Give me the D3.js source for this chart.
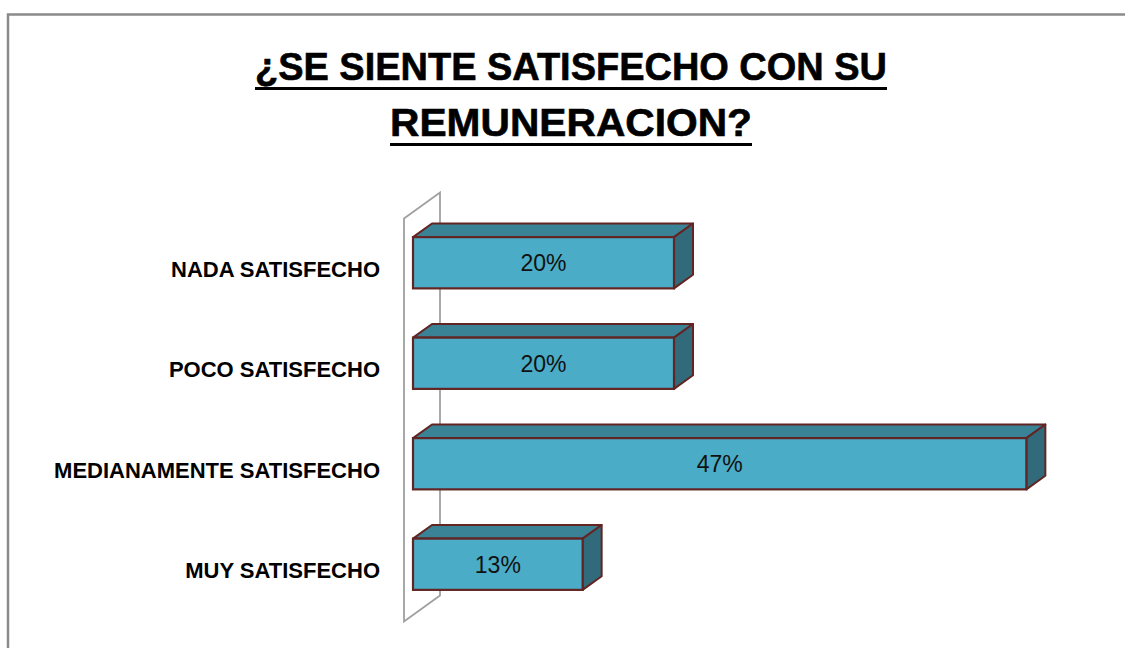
<!DOCTYPE html>
<html>
<head>
<meta charset="utf-8">
<script src="https://cdn.jsdelivr.net/npm/d3@7"></script>
<style>
  body { margin: 0; background: #fff; }
  svg { display: block; }
</style>
</head>
<body>
<div id="chart"></div>
<script>
(function () {
    'use strict';
    var width = 1125;
    var height = 648;

    // data
    var titleLines = ['¿SE SIENTE SATISFECHO CON SU', 'REMUNERACION?'];
    var categories = ['NADA SATISFECHO', 'POCO SATISFECHO', 'MEDIANAMENTE SATISFECHO', 'MUY SATISFECHO'];
    var values = [20, 20, 47, 13];
    var valueLabels = ['20%', '20%', '47%', '13%'];

    var svg = d3.select('#chart')
        .append('svg')
        .attr('width', width)
        .attr('height', height);

    // outer frame (runs off right and bottom)
    svg.append('rect')
        .attr('x', 8).attr('y', 14.5)
        .attr('width', 1140).attr('height', 660)
        .attr('fill', 'none')
        .attr('stroke', '#8a8a8a')
        .attr('stroke-width', 2.5);

    // title, underlined
    var titleYs = [80, 136];
    titleLines.forEach(function (t, i) {
        var txt = svg.append('text')
            .attr('x', 571)
            .attr('y', titleYs[i])
            .attr('text-anchor', 'middle')
            .attr('font-family', 'Liberation Sans, Arial, sans-serif')
            .attr('font-weight', 'bold')
            .attr('font-size', 38)
            .attr('fill', '#000')
            .attr('stroke', '#000')
            .attr('stroke-width', 0.6)
            .attr('textLength', i === 0 ? 632 : 362)
            .attr('lengthAdjust', 'spacingAndGlyphs')
            .text(t);
        var bb = txt.node().getBBox();
        svg.append('rect')
            .attr('x', bb.x)
            .attr('y', titleYs[i] + 7)
            .attr('width', bb.width)
            .attr('height', 3)
            .attr('fill', '#000');
    });

    // scales
    var x = d3.scaleLinear().domain([0, 50]).range([413, 413 + 50 * 13.05]);
    var y = d3.scaleBand().domain(categories).range([212, 615])
        .paddingInner(0.49).paddingOuter(0.25);

    // depth direction of the 3d effect
    var ddx = 1, ddy = -0.72;
    function pt(px, py, d) { return [px + d * ddx, py + d * ddy]; }

    // left wall
    var wFront = -9, wBack = 27;
    var yr = y.range();
    var wall = [pt(x(0), yr[0], wFront), pt(x(0), yr[0], wBack),
                pt(x(0), yr[1], wBack), pt(x(0), yr[1], wFront)];
    svg.append('path')
        .attr('d', 'M' + wall.join('L') + 'Z')
        .attr('fill', '#fff')
        .attr('stroke', '#a0a0a0')
        .attr('stroke-width', 1.8);

    // bars
    var bDepth = 19;
    var outline = '#632523';
    var bars = svg.append('g').selectAll('g')
        .data(categories)
        .enter().append('g');

    bars.append('path') // top face
        .attr('d', function (d, i) {
            var x0 = x(0), x1 = x(values[i]), y0 = y(d);
            return 'M' + [pt(x0, y0, 0), pt(x0, y0, bDepth), pt(x1, y0, bDepth), pt(x1, y0, 0)].join('L') + 'Z';
        })
        .attr('fill', '#3a8396')
        .attr('stroke', outline)
        .attr('stroke-width', 2)
        .attr('stroke-linejoin', 'round');

    bars.append('path') // side face
        .attr('d', function (d, i) {
            var x1 = x(values[i]), y0 = y(d), y1 = y(d) + y.bandwidth();
            return 'M' + [pt(x1, y0, 0), pt(x1, y0, bDepth), pt(x1, y1, bDepth), pt(x1, y1, 0)].join('L') + 'Z';
        })
        .attr('fill', '#316b7b')
        .attr('stroke', outline)
        .attr('stroke-width', 2)
        .attr('stroke-linejoin', 'round');

    bars.append('rect') // front face
        .attr('x', x(0))
        .attr('y', function (d) { return y(d); })
        .attr('width', function (d, i) { return x(values[i]) - x(0); })
        .attr('height', y.bandwidth())
        .attr('fill', '#4aacc6')
        .attr('stroke', outline)
        .attr('stroke-width', 2.2);

    bars.append('text')
        .attr('x', function (d, i) { return (x(0) + x(values[i])) / 2; })
        .attr('y', function (d) { return y(d) + y.bandwidth() / 2; })
        .attr('dy', '0.36em')
        .attr('text-anchor', 'middle')
        .attr('font-family', 'Liberation Sans, Arial, sans-serif')
        .attr('font-size', 23)
        .attr('fill', '#111')
        .text(function (d, i) { return valueLabels[i]; });

    // category labels
    svg.append('g').selectAll('text')
        .data(categories)
        .enter().append('text')
        .attr('x', 380)
        .attr('y', function (d) { return y(d) + y.bandwidth() / 2 + 14; })
        .attr('text-anchor', 'end')
        .attr('font-family', 'Liberation Sans, Arial, sans-serif')
        .attr('font-weight', 'bold')
        .attr('font-size', 22)
        .attr('fill', '#000')
        .text(function (d) { return d; });
}());
</script>
</body>
</html>
